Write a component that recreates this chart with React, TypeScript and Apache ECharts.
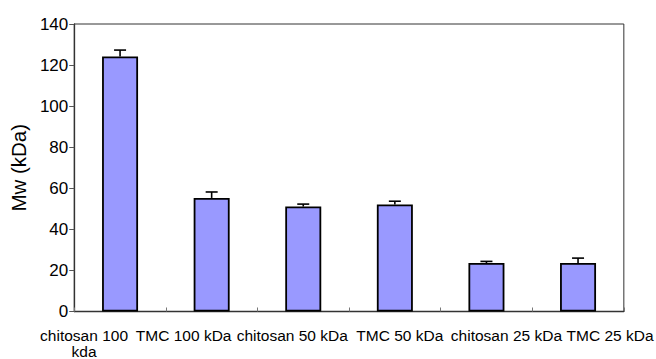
import React, { useEffect, useRef } from "react";
import * as echarts from "echarts";

const categories = [
  "chitosan 100\nkda",
  "TMC 100 kDa",
  "chitosan 50 kDa",
  "TMC 50 kDa",
  "chitosan 25 kDa",
  "TMC 25 kDa",
];
const mwValues = [124.2, 55.3, 51.1, 52.1, 23.6, 23.6];
const mwUpper = [127.3, 58.2, 52.3, 53.7, 24.4, 26.0];
const yTicks = { min: 0, max: 140, interval: 20 };
// horizontal label shift relative to category centre (px)
const labelShift = [-36, -28, -11, 5, 20, 32];

export default function App() {
  const ref = useRef<HTMLDivElement>(null);
  useEffect(() => {
    if (!ref.current) return;
    const chart = echarts.init(ref.current, undefined, { renderer: "svg" });
    const rich: Record<string, any> = {};
    labelShift.forEach((d, i) => {
      rich["p" + i] = {
        fontFamily: "Liberation Sans, Arial, sans-serif",
        fontSize: 15.5,
        color: "#000",
        lineHeight: 16,
        padding: d < 0 ? [0, -2 * d, 0, 0] : [0, 0, 0, 2 * d],
      };
    });
    chart.setOption({
      animation: false,
      grid: {
        left: 72,
        top: 24,
        right: 28,
        bottom: 44,
        show: true,
        borderColor: "#333",
        borderWidth: 1,
        backgroundColor: "transparent",
      },
      xAxis: {
        type: "category",
        data: categories,
        axisLine: { show: true, lineStyle: { color: "#333", width: 1.3 } },
        axisTick: { show: true, inside: true, length: 4, lineStyle: { color: "#777" } },
        axisLabel: {
          interval: 0,
          margin: 15.5,
          formatter: (value: string, index: number) =>
            value
              .split("\n")
              .map((l) => `{p${index}|${l}}`)
              .join("\n"),
          rich,
        },
        splitLine: { show: false },
      },
      yAxis: {
        type: "value",
        min: yTicks.min,
        max: yTicks.max,
        interval: yTicks.interval,
        name: "Mw (kDa)",
        nameLocation: "middle",
        nameGap: 35,
        nameTextStyle: {
          fontFamily: "Liberation Sans, Arial, sans-serif",
          fontSize: 20.5,
          color: "#000",
        },
        axisLine: { show: true, lineStyle: { color: "#333", width: 1.3 } },
        axisTick: { show: true, length: 5, lineStyle: { color: "#555" } },
        axisLabel: {
          margin: 6,
          fontFamily: "Liberation Sans, Arial, sans-serif",
          fontSize: 17,
          color: "#000",
        },
        splitLine: { show: false },
      },
      series: [
        {
          type: "bar",
          data: mwValues,
          barWidth: 36,
          itemStyle: { color: "#9999FF", borderColor: "#000", borderWidth: 1.8 },
          z: 2,
        },
        {
          type: "custom",
          z: 3,
          data: mwValues.map((v, i) => [i, v, mwUpper[i]]),
          encode: { x: 0, y: [1, 2] },
          renderItem: (params: any, api: any) => {
            const i = api.value(0);
            const lo = api.coord([i, api.value(1)]);
            const hi = api.coord([i, api.value(2)]);
            const hw = 6;
            const style = { stroke: "#000", lineWidth: 1.6 };
            return {
              type: "group",
              children: [
                { type: "line", shape: { x1: lo[0], y1: lo[1], x2: hi[0], y2: hi[1] }, style },
                { type: "line", shape: { x1: hi[0] - hw, y1: hi[1], x2: hi[0] + hw, y2: hi[1] }, style },
              ],
            };
          },
        },
      ],
    });
    return () => chart.dispose();
  }, []);
  return (
    <div
      ref={ref}
      style={{ position: "absolute", left: 0, top: 0, width: 656, height: 359, background: "#fff" }}
    />
  );
}
